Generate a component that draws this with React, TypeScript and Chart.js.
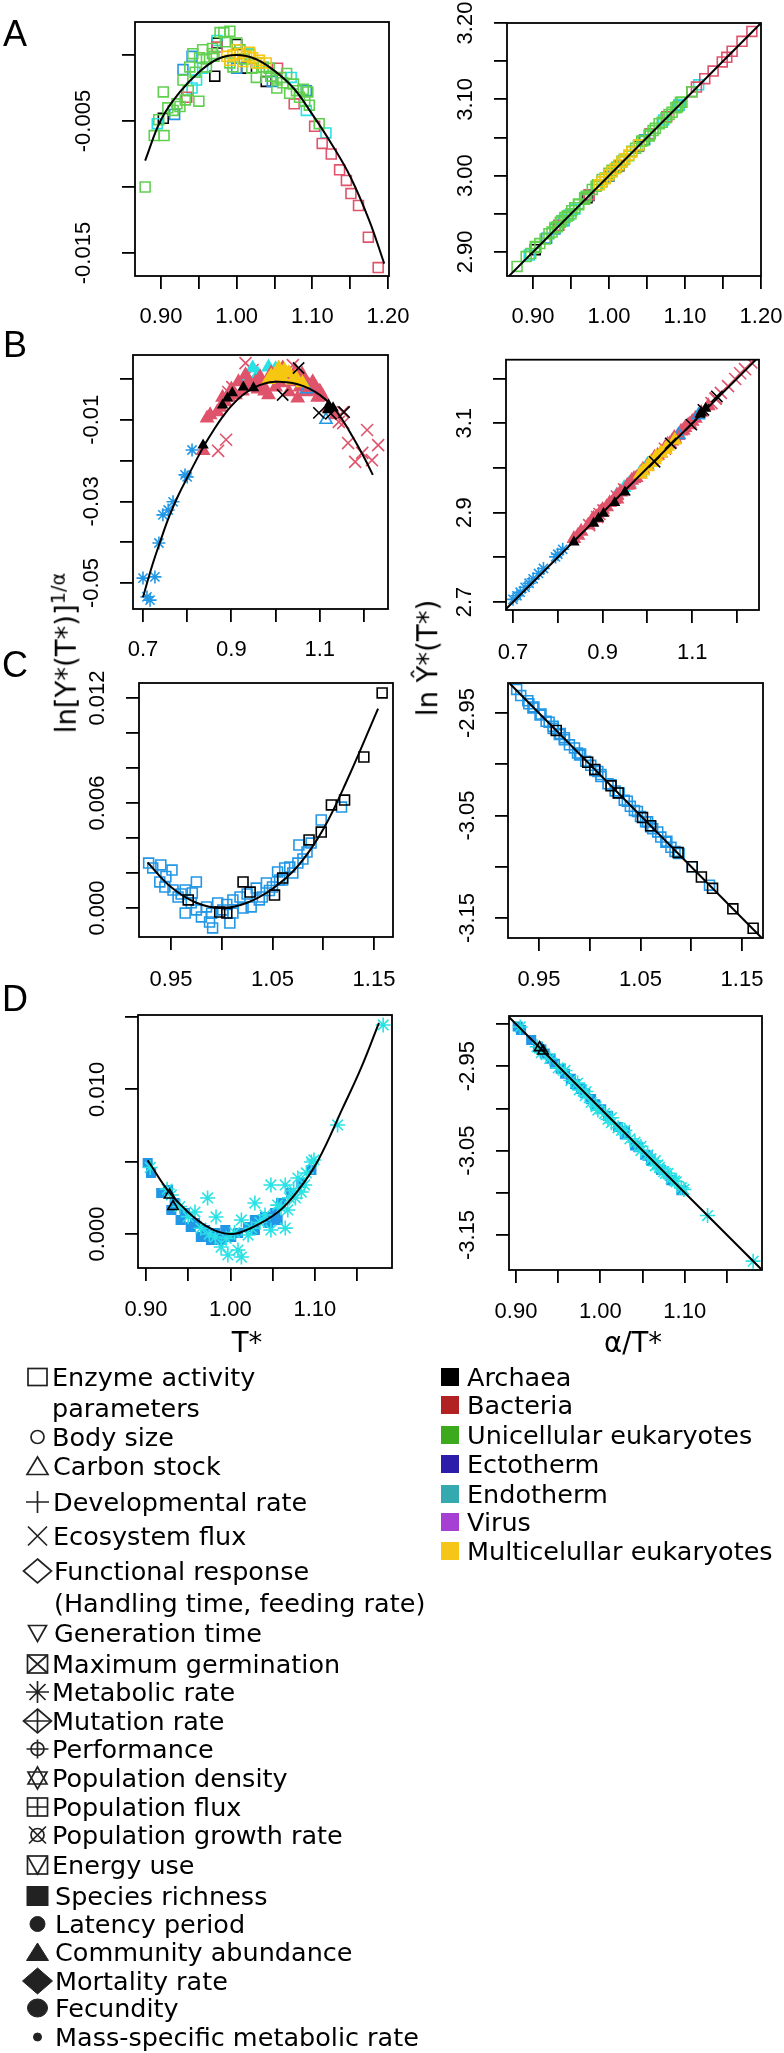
import React, { useEffect, useRef } from "react";
import { Chart, registerables } from "chart.js";

Chart.register(...registerables);

type Pt = [number, number];

const TICK_FONT = '"Liberation Sans", Arial, Helvetica, sans-serif';
const TEXT_FONT = '"DejaVu Sans", Verdana, sans-serif';
const TICK_SIZE = 22;
const TL = 13;
const LW = 1.8;

const RED = "#DF536B";
const GREEN = "#61D04F";
const BLUE = "#2297E6";
const CYAN = "#28E2E5";
const YELLOW = "#F5C710";
const BLACK = "#000000";

// ---------- tick values / labels ----------
const A_X_TICKS = [0.9, 0.95, 1.0, 1.05, 1.1, 1.15, 1.2];
const A_X_LABELS = ["0.90", "", "1.00", "", "1.10", "", "1.20"];
const A_L_Y_TICKS = [-0.015, -0.01, -0.005, 0.0];
const A_L_Y_LABELS = ["-0.015", "", "-0.005", ""];
const A_R_Y_TICKS = [2.9, 2.95, 3.0, 3.05, 3.1, 3.15, 3.2];
const A_R_Y_LABELS = ["2.90", "", "3.00", "", "3.10", "", "3.20"];

const B_X_TICKS = [0.7, 0.8, 0.9, 1.0, 1.1, 1.2];
const B_X_LABELS = ["0.7", "", "0.9", "", "1.1", ""];
const B_L_Y_TICKS = [-0.05, -0.04, -0.03, -0.02, -0.01, 0.0];
const B_L_Y_LABELS = ["-0.05", "", "-0.03", "", "-0.01", ""];
const B_R_Y_TICKS = [2.7, 2.8, 2.9, 3.0, 3.1, 3.2];
const B_R_Y_LABELS = ["2.7", "", "2.9", "", "3.1", ""];

const C_X_TICKS = [0.95, 1.0, 1.05, 1.1, 1.15];
const C_X_LABELS = ["0.95", "", "1.05", "", "1.15"];
const C_L_Y_TICKS = [0, 0.002, 0.004, 0.006, 0.008, 0.01, 0.012];
const C_L_Y_LABELS = ["0.000", "", "", "0.006", "", "", "0.012"];
const C_R_Y_TICKS = [-3.15, -3.1, -3.05, -3.0, -2.95];
const C_R_Y_LABELS = ["-3.15", "", "-3.05", "", "-2.95"];

const D_X_TICKS = [0.9, 0.95, 1.0, 1.05, 1.1, 1.15];
const D_X_LABELS = ["0.90", "", "1.00", "", "1.10", ""];
const D_L_Y_TICKS = [0, 0.005, 0.01, 0.015];
const D_L_Y_LABELS = ["0.000", "", "0.010", ""];
const D_R_Y_TICKS = [-3.15, -3.1, -3.05, -3.0, -2.95, -2.9];
const D_R_Y_LABELS = ["-3.15", "", "-3.05", "", "-2.95", ""];

// ---------- Panel A ----------
const A_GREEN: Pt[] = [[0.879,-0.0100],[0.891,-0.0061],[0.904,-0.0061],[0.897,-0.0049],[0.903,-0.0028],[0.909,-0.0040],[0.916,-0.0042],[0.921,-0.0037],[0.925,-0.0039],[0.929,-0.0019],[0.932,-0.0034],[0.936,-0.0027],[0.938,-0.0009],[0.942,0.0001],[0.945,-0.0013],[0.950,-0.0035],[0.951,-0.0002],[0.955,0.0004],[0.960,-0.0009],[0.960,-0.0003],[0.968,0.0005],[0.968,0.0001],[0.970,-0.0001],[0.978,0.0017],[0.983,0.0017],[0.985,0.0010],[0.991,0.0018],[0.991,-0.0006],[0.995,-0.0009],[1.000,0.0009],[1.004,0.0004],[1.010,-0.0003],[1.017,0.0000],[1.020,-0.0010],[1.026,-0.0017],[1.030,-0.0006],[1.035,-0.0009],[1.039,-0.0013],[1.043,-0.0010],[1.045,-0.0016],[1.053,-0.0019],[1.053,-0.0025],[1.058,-0.0017],[1.061,-0.0021],[1.066,-0.0014],[1.070,-0.0029],[1.075,-0.0022],[1.079,-0.0027],[1.083,-0.0032],[1.088,-0.0026],[1.090,-0.0035],[1.094,-0.0028],[1.096,-0.0038],[1.109,-0.0052]];
const A_GREEN_FIT: Pt[] = [[0.879,2.881],[0.891,2.894],[0.904,2.906],[0.897,2.898],[0.903,2.907],[0.909,2.911],[0.916,2.917],[0.921,2.924],[0.925,2.926],[0.929,2.932],[0.932,2.933],[0.936,2.939],[0.938,2.941],[0.942,2.945],[0.945,2.947],[0.950,2.950],[0.951,2.954],[0.955,2.958],[0.960,2.962],[0.960,2.963],[0.968,2.971],[0.968,2.969],[0.970,2.973],[0.978,2.982],[0.983,2.986],[0.985,2.988],[0.991,2.995],[0.991,2.992],[0.995,2.997],[1.000,3.003],[1.004,3.007],[1.010,3.011],[1.017,3.019],[1.020,3.021],[1.026,3.026],[1.030,3.032],[1.035,3.036],[1.039,3.040],[1.043,3.045],[1.045,3.046],[1.053,3.054],[1.053,3.052],[1.058,3.059],[1.061,3.062],[1.066,3.068],[1.070,3.070],[1.075,3.076],[1.079,3.080],[1.083,3.083],[1.088,3.089],[1.090,3.090],[1.094,3.096],[1.096,3.096],[1.109,3.110]];
const A_RED: Pt[] = [[0.934,-0.0032],[0.974,0.0006],[1.054,-0.0010],[1.076,-0.0037],[1.103,-0.0054],[1.113,-0.0067],[1.125,-0.0075],[1.136,-0.0087],[1.145,-0.0095],[1.151,-0.0105],[1.161,-0.0114],[1.174,-0.0138],[1.187,-0.0161]];
const A_RED_FIT: Pt[] = [[0.934,2.935],[0.974,2.975],[1.054,3.055],[1.076,3.077],[1.109,3.110],[1.115,3.116],[1.126,3.127],[1.137,3.137],[1.149,3.149],[1.155,3.155],[1.162,3.163],[1.175,3.176],[1.188,3.189]];
const A_CYAN: Pt[] = [[0.895,-0.0052],[0.941,-0.0025],[0.947,-0.0019],[0.955,-0.0010],[0.974,0.0011],[1.004,0.0004],[1.017,0.0001],[1.072,-0.0017],[1.092,-0.0042],[1.118,-0.0059]];
const A_CYAN_FIT: Pt[] = [[0.895,2.896],[0.941,2.942],[0.947,2.948],[0.955,2.956],[0.974,2.975],[1.004,3.005],[1.017,3.018],[1.072,3.073],[1.092,3.093],[1.118,3.119]];
const A_BLUE: Pt[] = [[0.918,-0.0045],[0.929,-0.0011],[0.941,-0.0001],[1.000,-0.0010],[1.047,-0.0020],[1.092,-0.0027]];
const A_BLUE_FIT: Pt[] = [[0.918,2.918],[0.929,2.930],[0.941,2.941],[1.000,3.000],[1.047,3.047],[1.092,3.092]];
const A_BLACK: Pt[] = [[0.903,-0.0048],[0.971,-0.0016],[0.974,0.0009],[1.000,0.0008],[1.013,-0.0010],[1.039,-0.0020]];
const A_BLACK_FIT: Pt[] = [[0.903,2.903],[0.971,2.971],[0.974,2.974],[1.000,3.000],[1.013,3.013],[1.039,3.039]];
const A_YELLOW: Pt[] = [[0.987,-0.0001],[0.991,-0.0004],[0.995,0.0000],[1.000,0.0004],[1.004,0.0001],[1.008,-0.0005],[1.013,-0.0001],[1.017,0.0002],[1.021,-0.0002],[1.026,-0.0006],[1.030,-0.0004],[1.039,-0.0006]];
const A_YELLOW_FIT: Pt[] = [[0.987,2.988],[0.991,2.992],[0.995,2.996],[1.000,3.001],[1.004,3.005],[1.008,3.009],[1.013,3.014],[1.017,3.018],[1.021,3.022],[1.026,3.027],[1.030,3.031],[1.039,3.040]];
const A_CURVE: Pt[] = [[0.879,-0.0080],[0.900,-0.0049],[0.925,-0.0028],[0.950,-0.0013],[0.975,-0.0003],[1.000,0.0000],[1.025,-0.0003],[1.050,-0.0012],[1.075,-0.0025],[1.100,-0.0045],[1.125,-0.0067],[1.150,-0.0092],[1.175,-0.0125],[1.195,-0.0158]];
const A_DIAG: Pt[] = [[0.86,2.86],[1.21,3.21]];

// ---------- Panel B ----------
const B_BLUE_STAR: Pt[] = [[0.700,-0.0488],[0.709,-0.0534],[0.716,-0.0542],[0.727,-0.0485],[0.736,-0.0402],[0.745,-0.0333],[0.757,-0.0321],[0.768,-0.0301],[0.795,-0.0235],[0.800,-0.0240],[0.811,-0.0174]];
const B_BLUE_STAR_FIT: Pt[] = [[0.700,2.706],[0.709,2.714],[0.716,2.722],[0.727,2.733],[0.736,2.742],[0.745,2.752],[0.757,2.764],[0.768,2.775],[0.795,2.801],[0.800,2.807],[0.811,2.818]];
const B_RED_X: Pt[] = [[0.870,-0.0176],[0.888,-0.0149],[0.893,-0.0032],[0.902,-0.0020],[0.932,0.0039],[0.948,0.0022],[1.039,0.0034],[1.143,-0.0105],[1.152,-0.0081],[1.153,-0.0108],[1.164,-0.0157],[1.180,-0.0203],[1.196,-0.0181],[1.207,-0.0125],[1.218,-0.0199],[1.232,-0.0162]];
const B_RED_X_FIT: Pt[] = [[0.870,2.872],[0.888,2.890],[0.893,2.897],[0.902,2.905],[0.932,2.936],[0.948,2.952],[1.039,3.043],[1.143,3.145],[1.152,3.155],[1.153,3.156],[1.164,3.168],[1.180,3.183],[1.196,3.199],[1.207,3.212],[1.218,3.221],[1.232,3.236]];
const B_RED_TRI: Pt[] = [[0.836,-0.0176],[0.845,-0.0096],[0.852,-0.0088],[0.868,-0.0081],[0.875,-0.0070],[0.880,-0.0045],[0.886,-0.0056],[0.895,-0.0045],[0.900,-0.0025],[0.909,-0.0039],[0.916,-0.0007],[0.925,-0.0030],[0.932,-0.0020],[0.932,0.0010],[0.940,-0.0005],[0.955,-0.0007],[0.960,-0.0025],[0.965,0.0005],[0.970,-0.0012],[0.975,-0.0030],[0.984,-0.0039],[0.990,0.0015],[1.000,-0.0020],[1.010,-0.0010],[1.016,0.0027],[1.023,0.0010],[1.030,-0.0032],[1.039,-0.0007],[1.045,0.0020],[1.050,-0.0047],[1.055,-0.0020],[1.060,0.0012],[1.061,0.0002],[1.068,-0.0032],[1.075,-0.0015],[1.080,-0.0030],[1.084,-0.0007],[1.091,-0.0022],[1.095,-0.0045],[1.100,-0.0030],[1.107,-0.0044],[1.120,-0.0070],[1.136,-0.0088]];
const B_RED_TRI_FIT: Pt[] = [[0.836,2.842],[0.845,2.849],[0.852,2.858],[0.868,2.872],[0.875,2.881],[0.880,2.887],[0.886,2.890],[0.895,2.901],[0.900,2.907],[0.909,2.913],[0.916,2.922],[0.925,2.929],[0.932,2.938],[0.932,2.930],[0.940,2.946],[0.955,2.961],[0.960,2.962],[0.965,2.972],[0.970,2.976],[0.975,2.978],[0.984,2.986],[0.990,2.997],[1.000,3.004],[1.010,3.014],[1.016,3.024],[1.023,3.028],[1.030,3.033],[1.039,3.045],[1.045,3.053],[1.050,3.054],[1.055,3.060],[1.060,3.068],[1.061,3.065],[1.068,3.072],[1.075,3.082],[1.080,3.084],[1.084,3.090],[1.091,3.096],[1.095,3.098],[1.100,3.104],[1.107,3.111],[1.120,3.124],[1.136,3.139]];
const B_CYAN_TRI: Pt[] = [[0.932,-0.0002],[0.948,0.0027],[0.960,0.0012],[0.984,0.0029],[1.000,0.0025],[1.070,-0.0012]];
const B_CYAN_TRI_FIT: Pt[] = [[0.932,2.940],[0.948,2.956],[0.960,2.966],[0.984,2.990],[1.000,3.008],[1.070,3.074]];
const B_BLUE_TRI: Pt[] = [[1.070,-0.0025],[1.114,-0.0100]];
const B_BLUE_TRI_FIT: Pt[] = [[1.070,3.074],[1.114,3.118]];
const B_YELLOW_TRI: Pt[] = [[0.984,-0.0002],[0.990,0.0008],[1.000,0.0010],[1.007,0.0027],[1.016,0.0002],[1.020,0.0022],[1.030,0.0015],[1.040,-0.0003],[1.045,0.0005],[1.061,-0.0010]];
const B_YELLOW_TRI_FIT: Pt[] = [[0.984,2.986],[0.990,2.993],[1.000,3.002],[1.007,3.012],[1.016,3.018],[1.020,3.025],[1.030,3.033],[1.040,3.041],[1.045,3.048],[1.061,3.062]];
const B_BLACK_TRI: Pt[] = [[0.836,-0.0162],[0.880,-0.0064],[0.891,-0.0047],[0.902,-0.0034],[0.927,-0.0020],[0.950,-0.0022],[1.118,-0.0076],[1.120,-0.0064],[1.130,-0.0071]];
const B_BLACK_TRI_FIT: Pt[] = [[0.836,2.834],[0.880,2.876],[0.891,2.887],[0.902,2.898],[0.927,2.922],[0.950,2.946],[1.118,3.120],[1.120,3.124],[1.130,3.133]];
const B_BLACK_X: Pt[] = [[1.016,-0.0039],[1.052,0.0027],[1.098,-0.0083],[1.125,-0.0085],[1.155,-0.0081]];
const B_BLACK_X_FIT: Pt[] = [[1.016,3.014],[1.052,3.055],[1.098,3.097],[1.125,3.130],[1.155,3.160]];
const B_CURVE: Pt[] = [[0.700,-0.0535],[0.720,-0.0460],[0.740,-0.0395],[0.760,-0.0335],[0.780,-0.0285],[0.800,-0.0242],[0.820,-0.0200],[0.840,-0.0160],[0.860,-0.0125],[0.880,-0.0093],[0.900,-0.0066],[0.925,-0.0040],[0.950,-0.0022],[0.975,-0.0011],[1.000,-0.0007],[1.025,-0.0008],[1.050,-0.0013],[1.075,-0.0023],[1.100,-0.0039],[1.125,-0.0063],[1.150,-0.0098],[1.175,-0.0143],[1.200,-0.0192],[1.220,-0.0235]];
const B_DIAG: Pt[] = [[0.67,2.67],[1.26,3.26]];

// ---------- Panel C ----------
const C_BLUE: Pt[] = [[0.928,0.00257],[0.932,0.00229],[0.939,0.00149],[0.940,0.00246],[0.944,0.00120],[0.945,0.00180],[0.951,0.00217],[0.952,0.00103],[0.957,0.00063],[0.960,0.00080],[0.964,0.00103],[0.964,-0.00029],[0.970,0.00030],[0.971,0.00086],[0.975,0.00149],[0.975,-0.00011],[0.980,-0.00051],[0.985,0.00006],[0.988,-0.00080],[0.990,-0.00030],[0.991,-0.00114],[0.996,0.00029],[1.001,-0.00011],[1.005,0.00020],[1.008,-0.00086],[1.011,0.00046],[1.011,-0.00029],[1.018,0.00063],[1.021,0.00000],[1.025,0.00080],[1.029,0.00006],[1.034,0.00114],[1.037,0.00046],[1.040,0.00063],[1.044,0.00143],[1.047,0.00100],[1.050,0.00120],[1.055,0.00206],[1.057,0.00160],[1.060,0.00160],[1.062,0.00229],[1.067,0.00234],[1.070,0.00200],[1.075,0.00257],[1.076,0.00360],[1.080,0.00280],[1.084,0.00320],[1.088,0.00371],[1.098,0.00503],[1.118,0.00577]];
const C_BLUE_FIT: Pt[] = [[0.928,-2.927],[0.932,-2.933],[0.939,-2.938],[0.940,-2.941],[0.944,-2.945],[0.945,-2.944],[0.951,-2.952],[0.952,-2.951],[0.957,-2.958],[0.960,-2.959],[0.964,-2.965],[0.964,-2.963],[0.970,-2.971],[0.971,-2.970],[0.975,-2.976],[0.975,-2.974],[0.980,-2.981],[0.985,-2.984],[0.988,-2.989],[0.990,-2.991],[0.991,-2.990],[0.996,-2.997],[1.001,-3.001],[1.005,-3.006],[1.008,-3.007],[1.011,-3.012],[1.011,-3.010],[1.018,-3.019],[1.021,-3.020],[1.025,-3.026],[1.029,-3.028],[1.034,-3.035],[1.037,-3.036],[1.040,-3.041],[1.044,-3.045],[1.047,-3.046],[1.050,-3.051],[1.055,-3.056],[1.057,-3.056],[1.060,-3.061],[1.062,-3.063],[1.067,-3.066],[1.070,-3.071],[1.075,-3.076],[1.076,-3.075],[1.080,-3.081],[1.084,-3.085],[1.088,-3.087],[1.101,-3.100],[1.118,-3.118]];
const C_BLACK: Pt[] = [[0.967,0.00046],[0.998,-0.00023],[1.005,-0.00029],[1.021,0.00149],[1.028,0.00091],[1.052,0.00074],[1.060,0.00171],[1.086,0.00389],[1.098,0.00434],[1.108,0.00589],[1.121,0.00617],[1.140,0.00863],[1.158,0.01229]];
const C_BLACK_FIT: Pt[] = [[0.967,-2.967],[0.998,-2.998],[1.005,-3.005],[1.021,-3.021],[1.028,-3.028],[1.052,-3.052],[1.060,-3.060],[1.087,-3.086],[1.101,-3.100],[1.110,-3.110],[1.121,-3.121],[1.141,-3.141],[1.161,-3.160]];
const C_CURVE: Pt[] = [[0.927,0.0026],[0.950,0.0012],[0.975,0.0003],[1.000,0.0000],[1.025,0.0003],[1.050,0.0011],[1.075,0.0024],[1.100,0.0045],[1.125,0.0075],[1.154,0.0114]];
const C_DIAG: Pt[] = [[0.91,-2.91],[1.18,-3.18]];

// ---------- Panel D ----------
const D_CYAN: Pt[] = [[0.905,0.0046],[0.925,0.0031],[0.930,0.0027],[0.940,0.0019],[0.950,0.0012],[0.958,0.00152],[0.965,0.0004],[0.973,0.00249],[0.975,0.0000],[0.982,-0.00021],[0.983,0.00118],[0.989,-0.00090],[0.995,-0.0003],[0.997,-0.00145],[1.005,0.0001],[1.009,-0.00111],[1.013,0.00097],[1.013,-0.00159],[1.021,-0.00007],[1.025,0.0004],[1.029,0.00214],[1.035,0.0008],[1.041,0.00131],[1.048,0.00339],[1.048,0.00028],[1.056,0.00200],[1.060,0.0018],[1.065,0.00339],[1.065,0.00041],[1.068,0.00166],[1.070,0.0025],[1.075,0.0030],[1.077,0.00249],[1.080,0.00387],[1.084,0.00290],[1.088,0.00339],[1.090,0.00422],[1.096,0.00498],[1.099,0.00512],[1.127,0.00754],[1.181,0.01445]];
const D_CYAN_FIT: Pt[] = [[0.905,-2.9035],[0.925,-2.927],[0.930,-2.934],[0.940,-2.941],[0.950,-2.952],[0.958,-2.955],[0.965,-2.967],[0.973,-2.970],[0.975,-2.978],[0.982,-2.985],[0.983,-2.980],[0.989,-2.993],[0.995,-2.998],[0.997,-3.002],[1.005,-3.006],[1.009,-3.013],[1.013,-3.011],[1.013,-3.017],[1.021,-3.023],[1.025,-3.026],[1.029,-3.026],[1.035,-3.036],[1.041,-3.040],[1.048,-3.045],[1.048,-3.050],[1.056,-3.055],[1.060,-3.060],[1.065,-3.062],[1.065,-3.068],[1.068,-3.067],[1.070,-3.070],[1.075,-3.075],[1.077,-3.077],[1.080,-3.077],[1.084,-3.083],[1.088,-3.086],[1.090,-3.087],[1.096,-3.094],[1.099,-3.096],[1.127,-3.127],[1.181,-3.181]];
const D_BLUE: Pt[] = [[0.902,0.00491],[0.906,0.00422],[0.918,0.00284],[0.926,0.00304],[0.930,0.00166],[0.934,0.00214],[0.941,0.00097],[0.946,0.00145],[0.953,0.00048],[0.958,0.00076],[0.965,-0.00021],[0.970,0.00028],[0.977,-0.00041],[0.982,0.00007],[0.989,-0.00041],[0.994,0.00028],[1.001,-0.00021],[1.009,0.00007],[1.021,0.00048],[1.029,0.00097],[1.029,0.00028],[1.041,0.00118],[1.045,0.00076],[1.053,0.00145],[1.056,0.00097],[1.060,0.00214],[1.072,0.00284],[1.084,0.00353],[1.096,0.00443]];
const D_BLUE_FIT: Pt[] = [[0.902,-2.903],[0.906,-2.907],[0.918,-2.919],[0.926,-2.927],[0.930,-2.930],[0.934,-2.935],[0.941,-2.941],[0.946,-2.947],[0.953,-2.953],[0.958,-2.959],[0.965,-2.965],[0.970,-2.971],[0.977,-2.977],[0.982,-2.982],[0.989,-2.989],[0.994,-2.995],[1.001,-3.001],[1.009,-3.009],[1.021,-3.022],[1.029,-3.031],[1.029,-3.027],[1.041,-3.044],[1.045,-3.046],[1.053,-3.055],[1.056,-3.056],[1.060,-3.062],[1.072,-3.073],[1.084,-3.085],[1.096,-3.097]];
const D_BLACK: Pt[] = [[0.928,0.0027],[0.932,0.0019]];
const D_BLACK_FIT: Pt[] = [[0.928,-2.928],[0.932,-2.932]];
const D_CURVE: Pt[] = [[0.902,0.0051],[0.926,0.0030],[0.950,0.0015],[0.973,0.0005],[1.000,0.0000],[1.024,0.0004],[1.056,0.0015],[1.080,0.0030],[1.104,0.0051],[1.133,0.0087],[1.155,0.0115],[1.176,0.0146]];
const D_DIAG: Pt[] = [[0.88,-2.88],[1.20,-3.20]];

// ---------- legends ----------
const LEFT_LEGEND: [string, string, number, number][] = [
  ["sq", "Enzyme activity", 52, 1377],
  ["", "parameters", 52, 1408],
  ["circ", "Body size", 52, 1437],
  ["tri", "Carbon stock", 53, 1466],
  ["plus", "Developmental rate", 53, 1502],
  ["x", "Ecosystem flux", 53, 1536],
  ["diamond", "Functional response", 54, 1571],
  ["", "(Handling time, feeding rate)", 54, 1603],
  ["dtri", "Generation time", 54, 1633],
  ["sqx", "Maximum germination", 52, 1664],
  ["star", "Metabolic rate", 52, 1692],
  ["diamondplus", "Mutation rate", 52, 1721],
  ["circplus", "Performance", 52, 1749],
  ["david", "Population density", 52, 1778],
  ["sqplus", "Population flux", 52, 1807],
  ["circx", "Population growth rate", 52, 1835],
  ["sqtri", "Energy use", 52, 1865],
  ["fsq", "Species richness", 55, 1896],
  ["fcirc", "Latency period", 55, 1924],
  ["ftri", "Community abundance", 55, 1952],
  ["fdiamond", "Mortality rate", 55, 1981],
  ["fell", "Fecundity", 55, 2008],
  ["dot", "Mass-specific metabolic rate", 55, 2037],
];
const GROUP_NAMES = ["Archaea", "Bacteria", "Unicellular eukaryotes", "Ectotherm", "Endotherm", "Virus", "Multicelullar eukaryotes"];
const GROUP_COLORS = ["#000000", "#B22222", "#3DAA1E", "#2C1CAA", "#34A9B0", "#A63FD3", "#F5C518"];
const GROUP_Y = [1377, 1405, 1435, 1464, 1494, 1522, 1551];

// ---------- helpers ----------
const pts = (a: Pt[]) => a.map(([x, y]) => ({ x, y }));

function series(data: Pt[], style: string, color: string, r: number, filled = false) {
  return {
    data: pts(data),
    pointStyle: style,
    pointRadius: r,
    pointHoverRadius: r,
    pointBorderColor: color,
    pointBackgroundColor: filled ? color : "rgba(0,0,0,0)",
    pointBorderWidth: 1.6,
    pointHoverBorderWidth: 1.6,
    showLine: false,
  };
}
function curve(data: Pt[], tension = 0.4) {
  return {
    data: pts(data),
    showLine: true,
    pointRadius: 0,
    pointHoverRadius: 0,
    borderColor: "#000",
    borderWidth: 2,
    tension,
    fill: false,
  };
}

let mctx: CanvasRenderingContext2D | null = null;
function widest(labels: string[]) {
  if (!mctx) mctx = document.createElement("canvas").getContext("2d");
  if (!mctx) return 0;
  mctx.font = `${TICK_SIZE}px ${TICK_FONT}`;
  let w = 0;
  for (const l of labels) w = Math.max(w, mctx.measureText(l).width);
  return w;
}

const boxPlugin = {
  id: "rbox",
  afterDraw(chart: any) {
    const { ctx, chartArea: a } = chart;
    ctx.save();
    ctx.strokeStyle = "#000";
    ctx.lineWidth = LW;
    ctx.strokeRect(a.left, a.top, a.right - a.left, a.bottom - a.top);
    ctx.restore();
  },
};

interface PanelSpec {
  area: [number, number, number, number];
  xRange: [number, number];
  yRange: [number, number];
  xTicks: number[];
  xLabels: string[];
  yTicks: number[];
  yLabels: string[];
  xLabelY: number;
  yLabelX: number;
  left: boolean;
  datasets: any[];
}

function PanelChart({ spec }: { spec: PanelSpec }) {
  const ref = useRef<HTMLCanvasElement>(null);
  const [L, T, R, B] = spec.area;
  const cx = spec.left ? 0 : 400;
  const cy = T - 22;
  const cw = spec.left ? R + 60 : 434;
  const ch = B + 75 - cy;
  useEffect(() => {
    if (!ref.current) return;
    const yPad = L - TL - spec.yLabelX - widest(spec.yLabels) / 2;
    const xPad = spec.xLabelY - B - TL - TICK_SIZE / 2;
    const grid = {
      drawOnChartArea: false,
      drawTicks: true,
      tickLength: TL,
      tickColor: "#000",
      tickWidth: LW,
      color: "#000",
      lineWidth: LW,
    };
    const font = { family: TICK_FONT, size: TICK_SIZE, lineHeight: 1 };
    const chart = new Chart(ref.current, {
      type: "scatter",
      data: { datasets: spec.datasets },
      options: {
        responsive: false,
        maintainAspectRatio: false,
        animation: false,
        devicePixelRatio: 1,
        events: [],
        layout: {
          autoPadding: false,
          padding: { left: 0, top: T - cy, right: cx + cw - R, bottom: 0 },
        },
        plugins: { legend: { display: false }, tooltip: { enabled: false } },
        scales: {
          x: {
            type: "linear",
            min: spec.xRange[0],
            max: spec.xRange[1],
            afterBuildTicks: (s: any) => {
              s.ticks = spec.xTicks.map((v) => ({ value: v }));
            },
            afterFit: (s: any) => {
              s.height = cy + ch - B;
            },
            ticks: {
              callback: (_v: any, i: number) => spec.xLabels[i],
              autoSkip: false,
              maxRotation: 0,
              minRotation: 0,
              padding: xPad,
              color: "#000",
              font,
            },
            grid,
            border: { display: false },
          },
          y: {
            type: "linear",
            min: spec.yRange[0],
            max: spec.yRange[1],
            afterBuildTicks: (s: any) => {
              s.ticks = spec.yTicks.map((v) => ({ value: v }));
            },
            afterFit: (s: any) => {
              s.width = L - cx;
            },
            ticks: {
              callback: (_v: any, i: number) => spec.yLabels[i],
              autoSkip: false,
              minRotation: 90,
              maxRotation: 90,
              crossAlign: "center",
              padding: yPad,
              color: "#000",
              font,
            },
            grid,
            border: { display: false },
          },
        },
      } as any,
      plugins: [boxPlugin],
    });
    return () => chart.destroy();
  }, []);
  return (
    <canvas
      ref={ref}
      width={cw}
      height={ch}
      style={{ position: "absolute", left: cx, top: cy, width: cw, height: ch }}
    />
  );
}

// ---------- panel specs ----------
const PANELS: PanelSpec[] = [
  {
    area: [135, 22, 389, 276], xRange: [0.8656, 1.2013], yRange: [-0.01674, 0.0025],
    xTicks: A_X_TICKS, xLabels: A_X_LABELS, yTicks: A_L_Y_TICKS, yLabels: A_L_Y_LABELS,
    xLabelY: 317, yLabelX: 83.5, left: true,
    datasets: [
      curve(A_CURVE),
      series(A_YELLOW, "rect", YELLOW, 7),
      series(A_GREEN, "rect", GREEN, 7),
      series(A_RED, "rect", RED, 7),
      series(A_CYAN, "rect", CYAN, 7),
      series(A_BLUE, "rect", BLUE, 7),
      series(A_BLACK, "rect", BLACK, 7),
    ],
  },
  {
    area: [507, 23, 761, 276], xRange: [0.8658, 1.2], yRange: [2.8685, 3.2],
    xTicks: A_X_TICKS, xLabels: A_X_LABELS, yTicks: A_R_Y_TICKS, yLabels: A_R_Y_LABELS,
    xLabelY: 317, yLabelX: 466, left: false,
    datasets: [
      curve(A_DIAG, 0),
      series(A_YELLOW_FIT, "rect", YELLOW, 7),
      series(A_GREEN_FIT, "rect", GREEN, 7),
      series(A_RED_FIT, "rect", RED, 7),
      series(A_CYAN_FIT, "rect", CYAN, 7),
      series(A_BLUE_FIT, "rect", BLUE, 7),
      series(A_BLACK_FIT, "rect", BLACK, 7),
    ],
  },
  {
    area: [133, 355, 388, 609], xRange: [0.6774, 1.2543], yRange: [-0.05637, 0.00588],
    xTicks: B_X_TICKS, xLabels: B_X_LABELS, yTicks: B_L_Y_TICKS, yLabels: B_L_Y_LABELS,
    xLabelY: 650, yLabelX: 92, left: true,
    datasets: [
      curve(B_CURVE),
      series(B_BLACK_TRI, "triangle", BLACK, 5, true),
      series(B_BLACK_X, "crossRot", BLACK, 8),
      series(B_YELLOW_TRI, "triangle", YELLOW, 7, true),
      series(B_BLUE_TRI, "triangle", BLUE, 7),
      series(B_RED_TRI, "triangle", RED, 7, true),
      series(B_CYAN_TRI, "triangle", CYAN, 7, true),
      series(B_RED_X, "crossRot", RED, 8.5),
      series(B_BLUE_STAR, "star", BLUE, 6.5),
    ],
  },
  {
    area: [506, 358, 759, 610], xRange: [0.6844, 1.2491], yRange: [2.6822, 3.2422],
    xTicks: B_X_TICKS, xLabels: B_X_LABELS, yTicks: B_R_Y_TICKS, yLabels: B_R_Y_LABELS,
    xLabelY: 653, yLabelX: 465, left: false,
    datasets: [
      curve(B_DIAG, 0),
      series(B_BLACK_TRI_FIT, "triangle", BLACK, 5, true),
      series(B_BLACK_X_FIT, "crossRot", BLACK, 8),
      series(B_YELLOW_TRI_FIT, "triangle", YELLOW, 7, true),
      series(B_BLUE_TRI_FIT, "triangle", BLUE, 7),
      series(B_RED_TRI_FIT, "triangle", RED, 7, true),
      series(B_CYAN_TRI_FIT, "triangle", CYAN, 7, true),
      series(B_RED_X_FIT, "crossRot", RED, 8.5),
      series(B_BLUE_STAR_FIT, "star", BLUE, 6.5),
    ],
  },
  {
    area: [139, 683, 393, 937], xRange: [0.9185, 1.1687], yRange: [-0.001657, 0.01286],
    xTicks: C_X_TICKS, xLabels: C_X_LABELS, yTicks: C_L_Y_TICKS, yLabels: C_L_Y_LABELS,
    xLabelY: 980, yLabelX: 98, left: true,
    datasets: [
      curve(C_CURVE),
      series(C_BLACK, "rect", BLACK, 7),
      series(C_BLUE, "rect", BLUE, 7),
    ],
  },
  {
    area: [508, 683, 763, 938], xRange: [0.91946, 1.1707], yRange: [-3.1695, -2.9207],
    xTicks: C_X_TICKS, xLabels: C_X_LABELS, yTicks: C_R_Y_TICKS, yLabels: C_R_Y_LABELS,
    xLabelY: 980, yLabelX: 468, left: false,
    datasets: [
      curve(C_DIAG, 0),
      series(C_BLACK_FIT, "rect", BLACK, 7),
      series(C_BLUE_FIT, "rect", BLUE, 7),
    ],
  },
  {
    area: [138, 1015, 392, 1268], xRange: [0.89052, 1.19147], yRange: [-0.00235, 0.01514],
    xTicks: D_X_TICKS, xLabels: D_X_LABELS, yTicks: D_L_Y_TICKS, yLabels: D_L_Y_LABELS,
    xLabelY: 1310, yLabelX: 98, left: true,
    datasets: [
      curve(D_CURVE),
      series(D_BLACK, "triangle", BLACK, 6),
      series(D_CYAN, "star", CYAN, 7.5),
      series(D_BLUE, "rect", BLUE, 6, true),
    ],
  },
  {
    area: [509, 1016, 762, 1270], xRange: [0.8917, 1.1915], yRange: [-3.1915, -2.8905],
    xTicks: D_X_TICKS, xLabels: D_X_LABELS, yTicks: D_R_Y_TICKS, yLabels: D_R_Y_LABELS,
    xLabelY: 1312, yLabelX: 468, left: false,
    datasets: [
      curve(D_DIAG, 0),
      series(D_BLACK_FIT, "triangle", BLACK, 6),
      series(D_CYAN_FIT, "star", CYAN, 7.5),
      series(D_BLUE_FIT, "rect", BLUE, 6, true),
    ],
  },
];

// ---------- legend symbols ----------
function Sym({ kind, cx, cy }: { kind: string; cx: number; cy: number }) {
  const s = { stroke: "#222", strokeWidth: 1.7, fill: "none" };
  const f = { fill: "#222", stroke: "#222", strokeWidth: 1 };
  switch (kind) {
    case "sq":
      return <rect x={cx - 9.5} y={cy - 8.5} width={19} height={17} {...s} />;
    case "circ":
      return <circle cx={cx} cy={cy} r={6.5} {...s} />;
    case "tri":
      return <polygon points={`${cx},${cy - 9} ${cx - 10.5},${cy + 8.5} ${cx + 10.5},${cy + 8.5}`} {...s} />;
    case "plus":
      return <path d={`M${cx - 11.5} ${cy}H${cx + 11.5}M${cx} ${cy - 11}V${cy + 11}`} {...s} />;
    case "x":
      return <path d={`M${cx - 9.5} ${cy - 9.5}L${cx + 9.5} ${cy + 9.5}M${cx - 9.5} ${cy + 9.5}L${cx + 9.5} ${cy - 9.5}`} {...s} />;
    case "diamond":
      return <polygon points={`${cx},${cy - 12} ${cx + 14},${cy} ${cx},${cy + 12} ${cx - 14},${cy}`} {...s} />;
    case "dtri":
      return <polygon points={`${cx - 9},${cy - 7.5} ${cx + 9},${cy - 7.5} ${cx},${cy + 8.5}`} {...s} />;
    case "sqx":
      return (
        <g {...s}>
          <rect x={cx - 10} y={cy - 9} width={20} height={18} />
          <path d={`M${cx - 10} ${cy - 9}L${cx + 10} ${cy + 9}M${cx - 10} ${cy + 9}L${cx + 10} ${cy - 9}`} />
        </g>
      );
    case "star":
      return (
        <path
          d={`M${cx - 11.5} ${cy}H${cx + 11.5}M${cx} ${cy - 11}V${cy + 11}M${cx - 8} ${cy - 8}L${cx + 8} ${cy + 8}M${cx - 8} ${cy + 8}L${cx + 8} ${cy - 8}`}
          {...s}
        />
      );
    case "diamondplus":
      return (
        <g {...s}>
          <polygon points={`${cx},${cy - 12} ${cx + 14},${cy} ${cx},${cy + 12} ${cx - 14},${cy}`} />
          <path d={`M${cx - 14} ${cy}H${cx + 14}M${cx} ${cy - 12}V${cy + 12}`} />
        </g>
      );
    case "circplus":
      return (
        <g {...s}>
          <circle cx={cx} cy={cy} r={6.5} />
          <path d={`M${cx - 11} ${cy}H${cx + 11}M${cx} ${cy - 9.5}V${cy + 9.5}`} />
        </g>
      );
    case "david":
      return (
        <g {...s}>
          <polygon points={`${cx},${cy - 11} ${cx - 9.5},${cy + 6} ${cx + 9.5},${cy + 6}`} />
          <polygon points={`${cx},${cy + 11} ${cx - 9.5},${cy - 6} ${cx + 9.5},${cy - 6}`} />
        </g>
      );
    case "sqplus":
      return (
        <g {...s}>
          <rect x={cx - 10} y={cy - 9} width={20} height={18} />
          <path d={`M${cx - 10} ${cy}H${cx + 10}M${cx} ${cy - 9}V${cy + 9}`} />
        </g>
      );
    case "circx":
      return (
        <g {...s}>
          <circle cx={cx} cy={cy} r={6.5} />
          <path d={`M${cx - 8.5} ${cy - 8.5}L${cx + 8.5} ${cy + 8.5}M${cx - 8.5} ${cy + 8.5}L${cx + 8.5} ${cy - 8.5}`} />
        </g>
      );
    case "sqtri":
      return (
        <g {...s}>
          <rect x={cx - 10} y={cy - 9} width={20} height={18} />
          <path d={`M${cx - 10} ${cy - 9}L${cx} ${cy + 9}L${cx + 10} ${cy - 9}`} />
        </g>
      );
    case "fsq":
      return <rect x={cx - 10.5} y={cy - 9.5} width={21} height={19} {...f} />;
    case "fcirc":
      return <circle cx={cx} cy={cy} r={7.5} {...f} />;
    case "ftri":
      return <polygon points={`${cx},${cy - 9} ${cx - 11},${cy + 8.5} ${cx + 11},${cy + 8.5}`} {...f} />;
    case "fdiamond":
      return <polygon points={`${cx},${cy - 13} ${cx + 15},${cy} ${cx},${cy + 13} ${cx - 15},${cy}`} {...f} />;
    case "fell":
      return <ellipse cx={cx} cy={cy} rx={10} ry={9} {...f} />;
    case "dot":
      return <circle cx={cx} cy={cy} r={4} {...f} />;
    default:
      return null;
  }
}

const LEG_FS = 25;
const TITLE_FS = 27.5;

function textAt(content: React.ReactNode, left: number, cyCap: number, fs: number, key: string, scale = 1.02) {
  return (
    <div
      key={key}
      style={{
        position: "absolute",
        left,
        top: cyCap - 0.4815 * fs,
        fontFamily: TEXT_FONT,
        fontSize: fs,
        lineHeight: `${fs}px`,
        whiteSpace: "nowrap",
        color: "#000",
        transform: `scaleX(${scale})`,
        transformOrigin: "0 50%",
      }}
    >
      {content}
    </div>
  );
}

function centered(content: React.ReactNode, x: number, y: number, fs: number, family: string, rotate: boolean, key: string) {
  return (
    <div
      key={key}
      style={{
        position: "absolute",
        left: x,
        top: y,
        fontFamily: family,
        fontSize: fs,
        lineHeight: `${fs}px`,
        whiteSpace: "nowrap",
        color: "#000",
        transform: `translate(-50%, -50%)${rotate ? " rotate(-90deg)" : ""}`,
      }}
    >
      {content}
    </div>
  );
}

export default function App() {
  return (
    <div
      style={{
        position: "absolute",
        left: 0,
        top: 0,
        width: 784,
        height: 2053,
        overflow: "hidden",
        background: "#fff",
      }}
    >
      {PANELS.map((p, i) => (
        <PanelChart key={i} spec={p} />
      ))}

      {centered("A", 15, 34, 36, TICK_FONT, false, "pa")}
      {centered("B", 15, 345, 36, TICK_FONT, false, "pb")}
      {centered("C", 15, 665, 36, TICK_FONT, false, "pc")}
      {centered("D", 15, 999, 36, TICK_FONT, false, "pd")}

      {centered(
        <span>
          ln[Y*(T*)]
          <span style={{ fontSize: "0.7em", position: "relative", top: "-0.55em" }}>1/α</span>
        </span>,
        67.5,
        653,
        TITLE_FS,
        TEXT_FONT,
        true,
        "ylabL"
      )}
      {centered("ln Ŷ*(T*)", 428, 658, TITLE_FS, TEXT_FONT, true, "ylabR")}
      {centered("T*", 247, 1343, TITLE_FS, TEXT_FONT, false, "xlabL")}
      {centered("α/T*", 633, 1343, TITLE_FS, TEXT_FONT, false, "xlabR")}

      <svg
        width={784}
        height={2053}
        style={{ position: "absolute", left: 0, top: 0, pointerEvents: "none" }}
      >
        {LEFT_LEGEND.map(([k, , , y], i) => (k ? <Sym key={i} kind={k} cx={37.5} cy={y} /> : null))}
        {GROUP_COLORS.map((c, i) => (
          <rect key={"g" + i} x={441} y={GROUP_Y[i] - 9} width={18} height={18} fill={c} />
        ))}
      </svg>

      {LEFT_LEGEND.map(([, t, x, y], i) => textAt(t, x, y, LEG_FS, "l" + i))}
      {GROUP_NAMES.map((t, i) => textAt(t, 467, GROUP_Y[i], LEG_FS, "r" + i))}
    </div>
  );
}
